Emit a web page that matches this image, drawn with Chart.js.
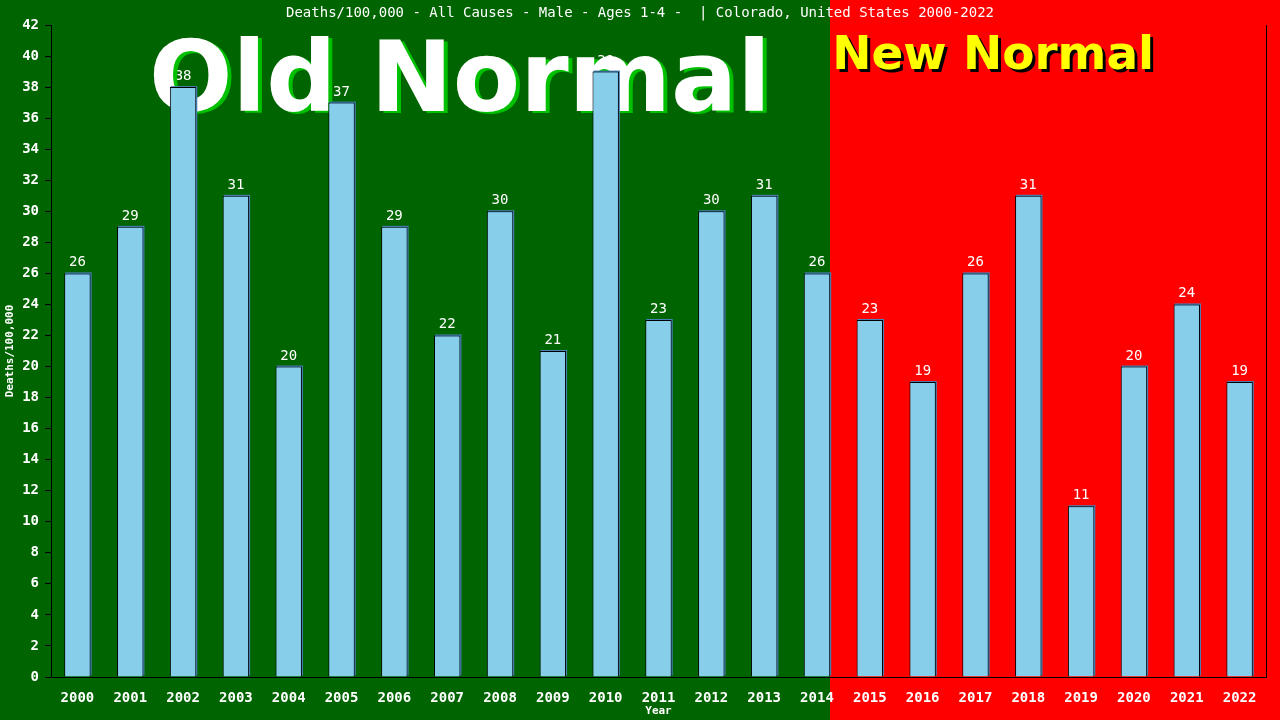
<!DOCTYPE html>
<html>
<head>
<meta charset="utf-8">
<script src="https://cdn.jsdelivr.net/npm/chart.js@4/dist/chart.umd.min.js"></script>
<style>
  html, body { margin: 0; padding: 0; background: #006400; }
  canvas { display: block; }
</style>
</head>
<body>
<canvas id="chart" width="1280" height="720"></canvas>
<script>
const years = ["2000", "2001", "2002", "2003", "2004", "2005", "2006", "2007", "2008", "2009", "2010", "2011",
  "2012", "2013", "2014", "2015", "2016", "2017", "2018", "2019", "2020", "2021", "2022"];
const deaths = [26, 29, 38, 31, 20, 37, 29, 22, 30, 21, 39, 23, 30, 31, 26, 23, 19, 26, 31, 11, 20, 24, 19];
const lastOldIndex = 14;
const titleText = "Deaths/100,000 - All Causes - Male - Ages 1-4 -  | Colorado, United States 2000-2022";
const mono = "'DejaVu Sans Mono', 'Liberation Mono', monospace";

// background halves, value labels and the big words, all drawn before the bars
const decorations = {
  id: "decorations",
  beforeDraw(chart) {
    const ctx = chart.ctx;
    const meta = chart.getDatasetMeta(0);
    const bar = meta.data[lastOldIndex];
    const split = Math.round(bar.x + bar.width / 2);
    ctx.save();
    ctx.fillStyle = "#006400";
    ctx.fillRect(0, 0, split, chart.height);
    ctx.fillStyle = "#ff0000";
    ctx.fillRect(split, 0, chart.width - split, chart.height);
    ctx.restore();
  },
  beforeDatasetsDraw(chart) {
    const ctx = chart.ctx;
    const area = chart.chartArea;
    const meta = chart.getDatasetMeta(0);
    const split = meta.data[lastOldIndex].x + meta.data[lastOldIndex].width / 2;
    ctx.save();

    // title
    ctx.fillStyle = "#ffffff";
    ctx.font = "14px " + mono;
    ctx.textAlign = "center";
    ctx.textBaseline = "middle";
    ctx.fillText(titleText, 640, 13);

    // value labels
    ctx.font = "14px " + mono;
    ctx.textBaseline = "alphabetic";
    meta.data.forEach((el, i) => {
      ctx.fillText(String(deaths[i]), el.x, el.y - 7);
    });

    // Old Normal
    ctx.font = "bold 100px 'DejaVu Sans', sans-serif";
    ctx.textAlign = "left";
    let w = ctx.measureText("Old Normal").width;
    let size = 100 * 622 / w;
    ctx.font = "bold " + size + "px 'DejaVu Sans', sans-serif";
    ctx.fillStyle = "#00c000";
    ctx.fillText("Old Normal", 153, 113);
    ctx.fillStyle = "#ffffff";
    ctx.fillText("Old Normal", 149, 111);

    // New Normal
    ctx.font = "bold 50px 'DejaVu Sans', sans-serif";
    w = ctx.measureText("New Normal").width;
    size = 50 * 322 / w;
    ctx.font = "bold " + size + "px 'DejaVu Sans', sans-serif";
    ctx.fillStyle = "#000000";
    ctx.fillText("New Normal", split + 5, 72);
    ctx.fillStyle = "#ffff00";
    ctx.fillText("New Normal", split + 2, 69);

    // steelblue edge behind each bar, offset up and right
    ctx.fillStyle = "#4682b4";
    meta.data.forEach((el) => {
      ctx.fillRect(el.x - el.width / 2 + 1, el.y - 1, el.width, el.base - el.y);
    });

    // right frame line
    ctx.strokeStyle = "#000000";
    ctx.lineWidth = 1;
    ctx.beginPath();
    ctx.moveTo(Math.round(area.right) + 0.5, area.top);
    ctx.lineTo(Math.round(area.right) + 0.5, area.bottom);
    ctx.stroke();
    ctx.restore();
  }
};

new Chart(document.getElementById("chart"), {
  type: "bar",
  data: {
    labels: years,
    datasets: [
      {
        label: "Deaths/100,000",
        data: deaths,
        backgroundColor: "#87ceeb",
        borderColor: "#000000",
        borderWidth: 1,
        borderSkipped: "bottom",
        categoryPercentage: 1,
        barPercentage: 0.5,
      },
    ],
  },
  options: {
    responsive: false,
    animation: false,
    devicePixelRatio: 1,
    layout: { padding: { top: 25, right: 14, left: 0, bottom: 0 } },
    plugins: {
      legend: { display: false },
      title: { display: false },
      tooltip: { enabled: false },
    },
    scales: {
      x: {
        afterFit: (scale) => { scale.height = 43; },
        grid: { display: false },
        border: { display: true, color: "#000000" },
        ticks: { color: "#ffffff", font: { family: mono, size: 14, weight: "bold" }, padding: 5, maxRotation: 0, autoSkip: false },
        title: { display: true, text: "Year", color: "#ffffff", font: { family: mono, size: 11, weight: "bold" }, padding: 2 },
      },
      y: {
        min: 0,
        max: 42,
        afterFit: (scale) => { scale.width = 51; },
        grid: { display: true, drawOnChartArea: false, drawTicks: true, tickLength: 6, color: "#000000" },
        border: { display: true, color: "#000000" },
        ticks: { stepSize: 2, color: "#ffffff", font: { family: mono, size: 14, weight: "bold" }, padding: 6 },
        title: { display: true, text: "Deaths/100,000", color: "#ffffff", font: { family: mono, size: 11, weight: "bold" }, padding: 4 },
      },
    },
  },
  plugins: [decorations],
});
</script>
</body>
</html>
